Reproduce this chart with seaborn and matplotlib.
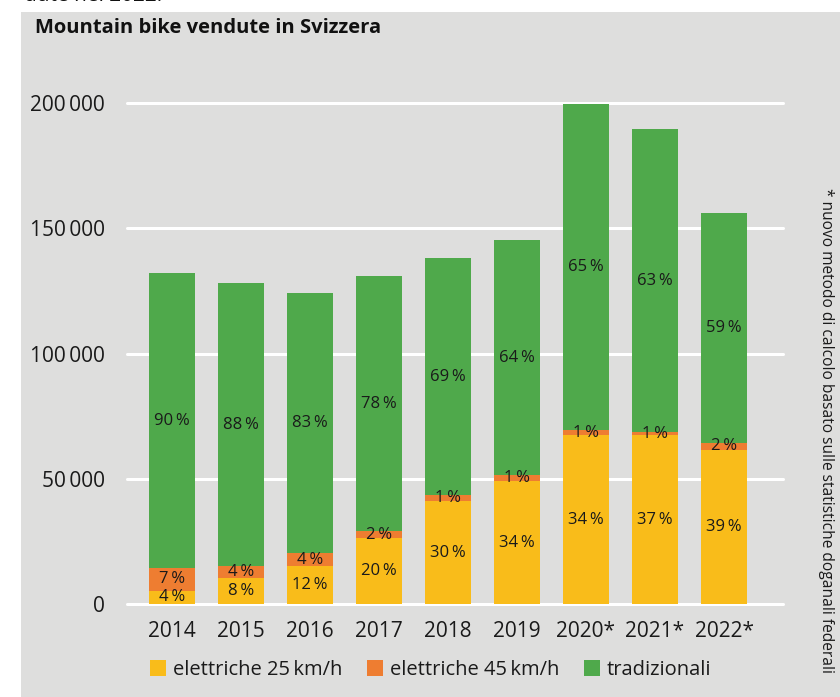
import matplotlib
matplotlib.use('Agg')
import matplotlib.pyplot as plt
from matplotlib.patches import Rectangle, Patch
import seaborn as sns
import numpy as np

anni = ['2014', '2015', '2016', '2017', '2018', '2019', '2020*', '2021*', '2022*']
elettriche_25 = [5200, 10400, 15200, 26300, 41100, 49100, 67400, 67400, 61400]
elettriche_45 = [9200, 4800, 5100, 2800, 2400, 2400, 2000, 1100, 3000]
tradizionali = [117700, 112900, 103800, 101800, 94600, 93700, 130100, 121000, 91600]

T = '\u2009'
lab_25 = ['4', '8', '12', '20', '30', '34', '34', '37', '39']
lab_45 = ['7', '4', '4', '2', '1', '1', '1', '1', '2']
lab_trad = ['90', '88', '83', '78', '69', '64', '65', '63', '59']
yticks = [0, 50000, 100000, 150000, 200000]
ytick_lab = ['0', '50' + T + '000', '100' + T + '000', '150' + T + '000', '200' + T + '000']

GIALLO = '#f9bc1a'
ARANCIO = '#ee7d31'
VERDE = '#4fa94b'
SFONDO = '#dededd'

sns.set_theme(style='white')
plt.rcParams['font.family'] = ['Open Sans', 'DejaVu Sans']

fig = plt.figure(figsize=(8.4, 6.97), dpi=100)
fig.patch.set_facecolor('white')
fig.patches.append(Rectangle((21 / 840, 0), 1, 1 - 12 / 697, transform=fig.transFigure,
                             facecolor=SFONDO, edgecolor='none', zorder=-5))

ax = fig.add_axes([127 / 840, 1 - 604 / 697, 656 / 840, 526 / 697])
ax.set_facecolor('none')
ax.set_zorder(2)

base45 = np.array(elettriche_25)
base_trad = base45 + np.array(elettriche_45)

sns.barplot(x=anni, y=elettriche_25, color=GIALLO, width=0.667, linewidth=0,
            saturation=1, ax=ax, zorder=3)
sns.barplot(x=anni, y=elettriche_45, bottom=base45, color=ARANCIO, width=0.667,
            linewidth=0, saturation=1, ax=ax, zorder=3)
sns.barplot(x=anni, y=tradizionali, bottom=base_trad, color=VERDE, width=0.667,
            linewidth=0, saturation=1, ax=ax, zorder=3)

for cont, lab in zip(ax.containers, [lab_25, lab_45, lab_trad]):
    ax.bar_label(cont, labels=[l + T + '%' for l in lab], label_type='center',
                 fontsize=12, color='#1a1a1a', zorder=5)

ax.set_xlim(-0.652, 8.855)
ax.set_ylim(0, 210000)
ax.set_yticks(yticks)
ax.set_yticklabels(ytick_lab)
for y in yticks:
    ax.axhline(y, color='white', lw=2.2, zorder=1, clip_on=False)
for s in ax.spines.values():
    s.set_visible(False)
ax.tick_params(axis='y', length=0, pad=16, labelsize=15, labelcolor='#1a1a1a')
ax.tick_params(axis='x', length=0, pad=12, labelsize=15, labelcolor='#1a1a1a')
ax.set_xlabel('')
ax.set_ylabel('')

fig.text(35 / 840, 1 - 28 / 697, 'Mountain bike vendute in Svizzera', fontsize=14.5,
         fontweight='bold', color='#111111', va='center', ha='left')
fig.text(24 / 840, 1 + 5 / 697, 'dute nel 2022.', fontsize=15, color='#111111',
         va='center', ha='left', zorder=-10)
fig.text(826 / 840, 1 - 188 / 697,
         '* nuovo metodo di calcolo basato sulle statistiche doganali federali',
         rotation=-90, fontsize=11.2, color='#1a1a1a', va='top', ha='center')

handles = [Patch(facecolor=GIALLO, edgecolor='none'),
           Patch(facecolor=ARANCIO, edgecolor='none'),
           Patch(facecolor=VERDE, edgecolor='none')]
fig.legend(handles, ['elettriche 25' + T + 'km/h', 'elettriche 45' + T + 'km/h', 'tradizionali'],
           loc='center left', bbox_to_anchor=(132 / 840, 1 - 670 / 697), ncol=3,
           frameon=False, fontsize=14.5, handlelength=0.8, handleheight=0.8,
           handletextpad=0.35, columnspacing=1.2, labelcolor='#1a1a1a')

fig.savefig('out.png', dpi=100, facecolor=fig.get_facecolor())
